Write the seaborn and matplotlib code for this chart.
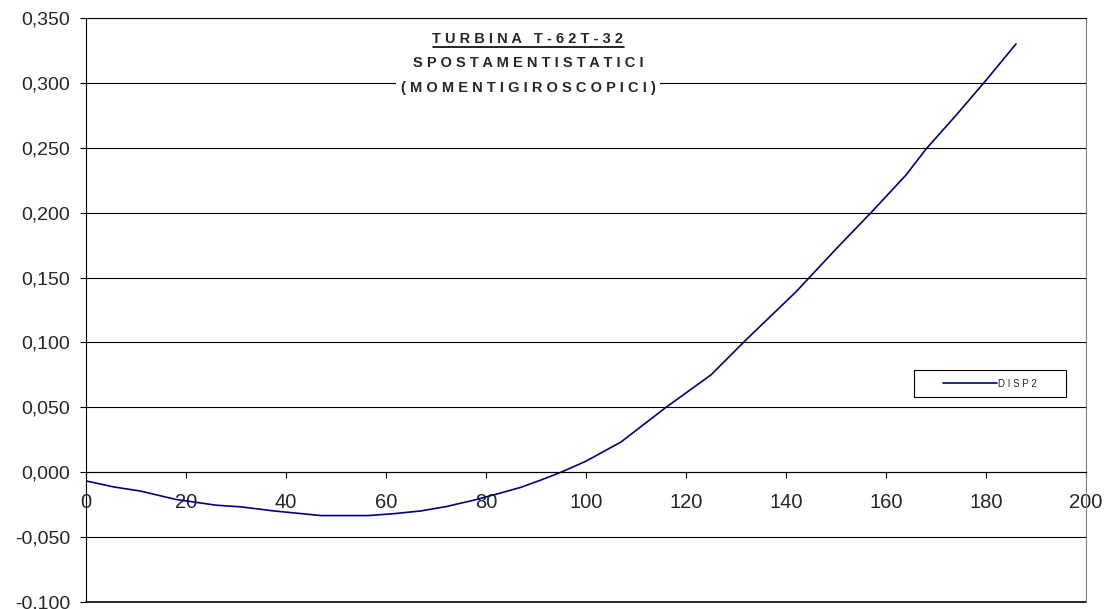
import matplotlib
matplotlib.use("Agg")
import matplotlib.pyplot as plt
import seaborn as sns
import pandas as pd
from matplotlib.ticker import FuncFormatter, MultipleLocator
from matplotlib.lines import Line2D
from matplotlib.patches import Rectangle

# Data
position = [0, 5.5, 11, 18, 26, 31, 37.5, 47, 56.5, 62, 67, 72, 77.5, 82, 87, 91, 95,
            100, 107, 116, 125, 132, 142, 150, 157, 164, 168, 174, 180, 186]
disp2 = [-0.0067, -0.0113, -0.0146, -0.0210, -0.0254, -0.0267, -0.0298, -0.0334, -0.0334,
         -0.0318, -0.0298, -0.0265, -0.0216, -0.0170, -0.0116, -0.0060, 0.0,
         0.0085, 0.0233, 0.0500, 0.0750, 0.1020, 0.1390, 0.1720, 0.2000, 0.2290,
         0.2490, 0.2750, 0.3020, 0.3300]
series_name = "DISP2"
title_lines = ["TURBINA T-62T-32", "SPOSTAMENTISTATICI", "(MOMENTIGIROSCOPICI)"]

df = pd.DataFrame({"x": position, "y": disp2, "series": series_name})

sns.set_style("white")
plt.rcParams["font.family"] = ["Liberation Sans", "DejaVu Sans"]

fig = plt.figure(figsize=(11.04, 6.09), dpi=100)
ax = fig.add_axes([86 / 1104, 1 - 602 / 609, 1000 / 1104, 584 / 609])

sns.lineplot(data=df, x="x", y="y", hue="series", palette=["#000080"],
             linewidth=1.2, ax=ax, legend=True, sort=False)

ax.set_xlim(0, 200)
ax.set_ylim(-0.1, 0.35)
ax.xaxis.set_major_locator(MultipleLocator(20))
ax.yaxis.set_major_locator(MultipleLocator(0.05))
ax.yaxis.set_major_formatter(FuncFormatter(lambda v, p: f"{v:.3f}".replace(".", ",")))
ax.xaxis.set_major_formatter(FuncFormatter(lambda v, p: f"{v:.0f}"))
ax.set_xlabel("")
ax.set_ylabel("")

ax.grid(axis="y", color="#000000", linewidth=0.8)
ax.grid(axis="x", visible=False)
ax.set_axisbelow(True)

for s in ["left", "right", "top"]:
    ax.spines[s].set_visible(True)
    ax.spines[s].set_color("#000000")
    ax.spines[s].set_linewidth(0.8)
ax.spines["right"].set_color("#808080")
ax.spines["bottom"].set_position(("data", 0))
ax.spines["bottom"].set_color("#000000")
ax.spines["bottom"].set_linewidth(0.8)
ax.axhline(-0.1, color="#000000", linewidth=1.2, clip_on=False)

ax.tick_params(axis="y", direction="out", length=4.5, width=0.8, pad=7,
               labelsize=14, color="#000000", left=True)
ax.tick_params(axis="x", direction="out", length=4, width=0.8, pad=11,
               labelsize=14.5, color="#000000", bottom=True)

# Legend
leg = ax.legend(loc="center", bbox_to_anchor=(0.904, 0.374), frameon=False,
                handlelength=5.6, fontsize=7, borderpad=0.7,
                handletextpad=0.1)
for t in leg.get_texts():
    t.set_text(" ".join(series_name))
ax.add_patch(Rectangle((0.828, 0.351), 0.152, 0.046, transform=ax.transAxes,
                       facecolor="white", edgecolor="#000000", linewidth=0.8,
                       zorder=4))
leg.set_zorder(5)

# Title block
def spaced(s):
    return " ".join(s)

ys = [1 - 39 / 609, 1 - 63 / 609, 1 - 88 / 609]
cx = 528 / 1104
t1 = fig.text(cx, ys[0], spaced(title_lines[0]), ha="center", va="center",
              fontsize=10.5, fontweight="bold")
fig.text(cx, ys[1], spaced(title_lines[1]), ha="center", va="center",
         fontsize=10.5, fontweight="bold")
fig.text(cx, ys[2], spaced(title_lines[2]), ha="center", va="center",
         fontsize=10.5, fontweight="bold",
         bbox=dict(facecolor="white", edgecolor="none", pad=3))

fig.canvas.draw()
bb = t1.get_window_extent().transformed(fig.transFigure.inverted())
fig.add_artist(Line2D([bb.x0, bb.x1], [bb.y0 - 0.001, bb.y0 - 0.001],
                      color="black", linewidth=1.2, transform=fig.transFigure))

fig.savefig("out.png", dpi=100)
